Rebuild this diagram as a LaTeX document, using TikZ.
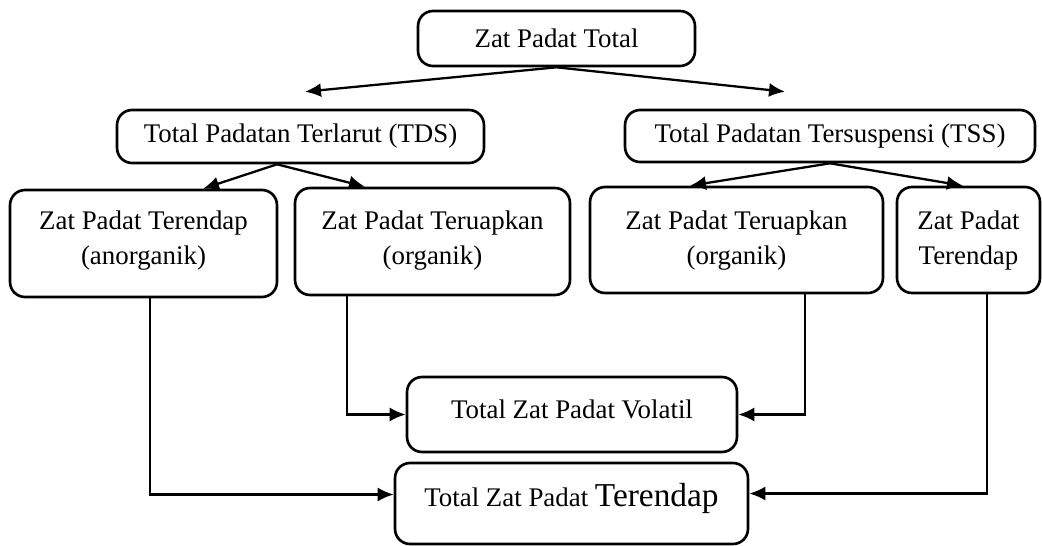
\documentclass[tikz,border=0pt]{standalone}
\usepackage{fontspec}
\setmainfont{Liberation Serif}
\usetikzlibrary{arrows.meta}

\begin{document}
\begin{tikzpicture}[x=0.02cm, y=-0.02cm,
    block/.style={rectangle, draw, line width=1.5pt, text centered, align=center, rounded corners=0.3cm, inner sep=2pt, font=\fontsize{15.3}{20}\selectfont},
    high/.style 2 args={text height=#1, text depth=#2},
    line/.style={draw, line width=1.3pt, -{Latex[length=0.32cm, width=0.28cm]}}]
    \useasboundingbox (0,0) rectangle (1042,545);
    \node [block, minimum width=5.54cm, minimum height=1.1cm] (total) at (556.5,38.5) {Zat Padat Total};
    \node [block, minimum width=7.34cm, minimum height=1.06cm] (tds) at (300.5,136.5) {Total Padatan Terlarut (TDS)};
    \node [block, minimum width=8.2cm, minimum height=1.04cm] (tss) at (830,136) {Total Padatan Tersuspensi (TSS)};
    \node [block, high={32pt}{8pt}, minimum width=5.34cm, minimum height=2.14cm] (anorg) at (143.5,243.5) {Zat Padat Terendap\\(anorganik)};
    \node [block, high={32pt}{6pt}, minimum width=5.5cm, minimum height=2.14cm] (org1) at (432.5,241.5) {Zat Padat Teruapkan\\(organik)};
    \node [block, high={32pt}{4pt}, minimum width=5.86cm, minimum height=2.12cm] (org2) at (736.5,240) {Zat Padat Teruapkan\\(organik)};
    \node [block, high={32pt}{4pt}, minimum width=2.86cm, minimum height=2.12cm] (endap) at (968.5,240) {Zat Padat\\Terendap};
    \node [block, high={10pt}{6pt}, minimum width=6.6cm, minimum height=1.5cm] (volatil) at (572,414.5) {Total Zat Padat Volatil};
    \node [block, high={10pt}{7pt}, minimum width=7.06cm, minimum height=1.62cm] (terendap) at (571.5,503.5) {Total Zat Padat {\fontsize{19}{19}\selectfont Terendap}};

    \path [line] (total.south) -- ([xshift=0.09cm, yshift=0.34cm]tds.north);
    \path [line] (total.south) -- ([xshift=-0.9cm, yshift=0.34cm]tss.north);
    \path [line] ([xshift=-0.47cm]tds.south) -- ([xshift=1.19cm]anorg.north);
    \path [line] ([xshift=-0.47cm]tds.south) -- ([xshift=-1.35cm]org1.north);
    \path [line] (tss.south) -- ([xshift=-0.93cm]org2.north);
    \path [line] (tss.south) -- ([xshift=-0.11cm]endap.north);
    \path [line] ([xshift=0.13cm]anorg.south) |- ([yshift=0.18cm]terendap.west);
    \path [line] ([xshift=-1.71cm]org1.south) |- (volatil.west);
    \path [line] ([xshift=1.37cm]org2.south) |- (volatil.east);
    \path [line] ([xshift=0.37cm]endap.south) |- ([yshift=0.2cm]terendap.east);
\end{tikzpicture}
\end{document}
